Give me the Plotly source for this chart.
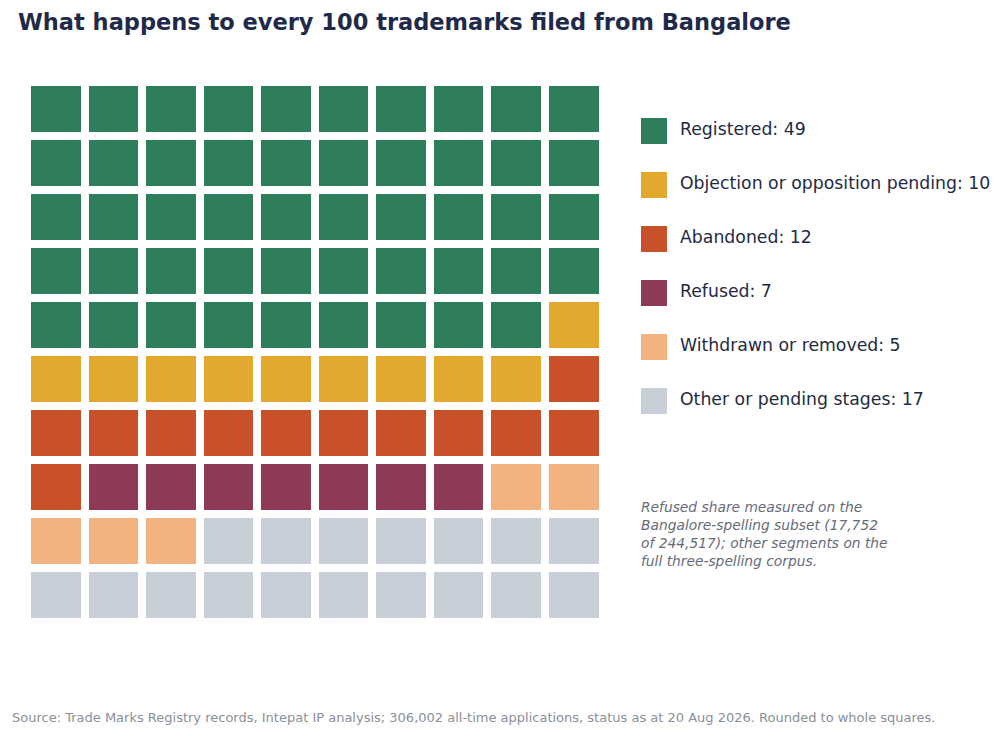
import plotly.graph_objects as go

# dados
categorias = ["Registered", "Objection or opposition pending", "Abandoned",
              "Refused", "Withdrawn or removed", "Other or pending stages"]
quadrados = [49, 10, 12, 7, 5, 17]
cores = ["#2e7d5b", "#e3a82e", "#c9512a", "#8e3a56", "#f2b27f", "#c9cfd8"]

titulo = "What happens to every 100 trademarks filed from Bangalore"
nota = ("Refused share measured on the<br>Bangalore-spelling subset (17,752<br>"
        "of 244,517); other segments on the<br>full three-spelling corpus.")
fonte = ("Source: Trade Marks Registry records, Intepat IP analysis; 306,002 all-time "
         "applications, status as at 20 Aug 2026. Rounded to whole squares.")

n_cols = 10

# montar grade do waffle (linha por linha, a partir do canto superior esquerdo)
celulas = []
for i, n in enumerate(quadrados):
    celulas += [i] * n
z = [celulas[r * n_cols:(r + 1) * n_cols] for r in range(len(celulas) // n_cols)]
texto = [[categorias[v] for v in linha] for linha in z]

k = len(cores)
escala = []
for i, c in enumerate(cores):
    escala.append([i / k, c])
    escala.append([(i + 1) / k, c])

fig = go.Figure()

fig.add_trace(go.Heatmap(
    z=z, text=texto, hovertemplate="%{text}<extra></extra>",
    colorscale=escala, zmin=-0.5, zmax=k - 0.5, showscale=False,
    xgap=8, ygap=8,
))

# legenda desenhada como scatter num segundo eixo
rotulos = [f"{c}: {n}" for c, n in zip(categorias, quadrados)]
fig.add_trace(go.Scatter(
    x=[0] * k, y=list(range(k)),
    mode="markers",
    marker=dict(symbol="square", size=26, color=cores),
    hoverinfo="skip",
    xaxis="x2", yaxis="y2", showlegend=False,
))
fig.add_trace(go.Scatter(
    x=[26] * k, y=list(range(k)),
    mode="text", text=rotulos,
    textposition="middle right",
    textfont=dict(size=17.3, color="#1f2a44"),
    hoverinfo="skip",
    xaxis="x2", yaxis="y2", showlegend=False,
))

W, H = 1003, 736
ml, mr, mt, mb = 27, 5, 82, 114
pw = W - ml - mr
ph = H - mt - mb
base = H - mb  # base da área do gráfico em px

fig.update_layout(
    width=W, height=H,
    margin=dict(l=ml, r=mr, t=mt, b=mb),
    paper_bgcolor="white", plot_bgcolor="white",
    font=dict(family="DejaVu Sans", color="#1f2a44"),
    title=dict(text=f"<b>{titulo}</b>", x=18 / W, xref="container", xanchor="left",
               y=1 - 22 / H, yref="container", yanchor="middle",
               font=dict(size=22.5, color="#1f2a4a")),
    xaxis=dict(domain=[0, 575.6 / pw], range=[-0.5, 9.5], visible=False,
               fixedrange=True),
    yaxis=dict(range=[9.5, -0.5], visible=False, fixedrange=True),
    xaxis2=dict(domain=[(641 - ml) / pw, 1], range=[-13, (W - mr) - 654],
                visible=False, anchor="y2"),
    yaxis2=dict(domain=[0, 1], range=[(base - 131) / 54, (mt - 131) / 54],
                visible=False, anchor="x2"),
    showlegend=False,
)

fig.add_annotation(
    text=nota, xref="paper", yref="paper",
    x=(639 - ml) / pw, y=(base - 497) / ph, xanchor="left", yanchor="top",
    align="left", showarrow=False,
    font=dict(size=13.8, color="#666b7a", style="italic"),
)
fig.add_annotation(
    text=fonte, xref="paper", yref="paper",
    x=(10 - ml) / pw, y=(base - 717) / ph, xanchor="left", yanchor="middle",
    align="left", showarrow=False,
    font=dict(size=13, color="#8a8f99"),
)

fig.write_html("out.html", config={"displayModeBar": False},
               post_script="document.body.style.margin='0';")
